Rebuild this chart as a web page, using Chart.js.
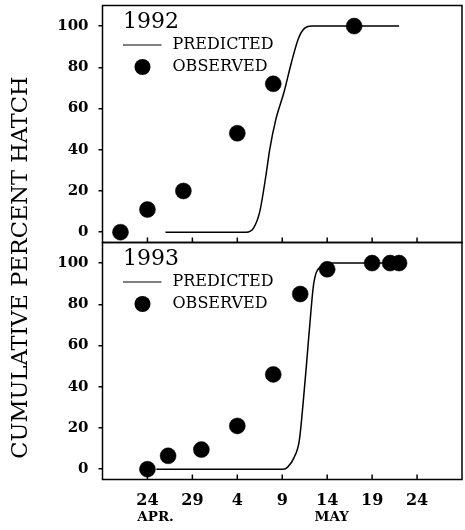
<!DOCTYPE html>
<html>
<head>
<meta charset="utf-8">
<script src="https://cdn.jsdelivr.net/npm/chart.js@4.4.0/dist/chart.umd.min.js"></script>
<style>
    html, body { margin: 0; padding: 0; background: #fff; }
</style>
</head>
<body>
<canvas id="hatchChart" width="465" height="530"></canvas>
<script>
// x values are days counted from 24 April
var dayTicks = [0, 5, 10, 15, 20, 25, 30];
var dayLabels = ['24', '29', '4', '9', '14', '19', '24'];
var monthTicks = [0.9, 20.5];
var monthLabels = ['APR.', 'MAY'];
var hatchTicks = [0, 20, 40, 60, 80, 100];
var panelYears = ['1992', '1993'];

var obs92Days = [-3, 0, 4, 10, 14, 23];
var obs92Hatch = [0, 11, 20, 48, 72, 100];
var pred92Days = [2, 11, 11.8, 12.5, 13.2, 13.6, 14.3, 15.2, 16, 16.8, 17.5, 18.3, 28];
var pred92Hatch = [0, 0, 2, 10, 28, 40, 55, 68, 82, 94, 99, 100, 100];

var obs93Days = [0, 2.3, 6, 10, 14, 17, 20, 25, 27, 28];
var obs93Hatch = [0, 6.5, 9.5, 21, 46, 85, 97, 100, 100, 100];
var pred93Days = [1, 15.1, 15.6, 16.3, 16.9, 17.3, 17.7, 18.1, 18.5, 19.2, 20.5, 28];
var pred93Hatch = [0, 0, 1, 5.5, 14, 31, 51, 72, 90, 98, 100, 100];

var FONT = "'DejaVu Serif', serif";

function toPoints(xs, ys) {
    return xs.map(function (x, i) { return { x: x, y: ys[i] }; });
}

function predicted(xs, ys, axis) {
    return {
        label: 'PREDICTED',
        data: toPoints(xs, ys),
        yAxisID: axis,
        showLine: true,
        pointRadius: 0,
        borderColor: '#000',
        borderWidth: 1.5,
        cubicInterpolationMode: 'monotone'
    };
}

function observed(xs, ys, axis) {
    return {
        label: 'OBSERVED',
        data: toPoints(xs, ys),
        yAxisID: axis,
        pointRadius: 8,
        pointBorderWidth: 0.5,
        backgroundColor: '#000',
        borderColor: '#000'
    };
}

function hatchAxis() {
    return {
        type: 'linear',
        position: 'left',
        stack: 'hatch',
        stackWeight: 1,
        min: -5,
        max: 110,
        afterBuildTicks: function (axis) {
            axis.ticks = hatchTicks.map(function (v) { return { value: v }; });
        },
        afterFit: function (axis) {
            axis.width = 52.5;
            axis.paddingTop = 0;
            axis.paddingBottom = 0;
        },
        ticks: { font: { size: 15, weight: 'bold' }, padding: 10, color: '#000' },
        grid: { drawOnChartArea: false, tickLength: 4, color: '#000', lineWidth: 1.5 },
        border: { display: false }
    };
}

// frame of each panel, inside ticks, year and small legend
var panelDecor = {
    id: 'panelDecor',
    afterDatasetsDraw: function (chart) {
        var c = chart.ctx;
        var area = chart.chartArea;
        var xs = chart.scales.x;
        c.save();
        c.strokeStyle = '#000';
        c.fillStyle = '#000';
        ['yTop', 'yBot'].forEach(function (id, i) {
            var s = chart.scales[id];
            c.lineWidth = 1.5;
            c.strokeRect(area.left, s.top, area.right - area.left, s.bottom - s.top);
            dayTicks.forEach(function (d) {
                var px = xs.getPixelForValue(d);
                c.beginPath();
                c.moveTo(px, s.bottom);
                c.lineTo(px, s.bottom - 5);
                c.stroke();
            });

            var lx = area.left + 20.5;
            c.textAlign = 'left';
            c.textBaseline = 'alphabetic';
            c.font = '22px ' + FONT;
            c.fillText(panelYears[i], lx, s.top + 22.5);

            c.lineWidth = 1;
            c.beginPath();
            c.moveTo(lx, s.top + 39.5);
            c.lineTo(lx + 38.5, s.top + 39.5);
            c.stroke();
            c.beginPath();
            c.arc(area.left + 40, s.top + 61.5, 8, 0, 2 * Math.PI);
            c.fill();

            c.font = '16px ' + FONT;
            c.textBaseline = 'middle';
            c.fillText(chart.data.datasets[i * 2].label, area.left + 70, s.top + 39.5);
            c.fillText(chart.data.datasets[i * 2 + 1].label, area.left + 70, s.top + 61.5);
        });
        c.restore();
    }
};

Chart.defaults.font.family = FONT;
Chart.defaults.color = '#000';

var hatchCanvas = document.getElementById('hatchChart').getContext('2d');

var hatchChart = new Chart(hatchCanvas, {
    type: 'scatter',
    data: {
        datasets: [
            predicted(pred92Days, pred92Hatch, 'yTop'),
            observed(obs92Days, obs92Hatch, 'yTop'),
            predicted(pred93Days, pred93Hatch, 'yBot'),
            observed(obs93Days, obs93Hatch, 'yBot')
        ]
    },
    options: {
        responsive: false,
        animation: false,
        layout: { autoPadding: false, padding: { top: 5.5, right: 3, bottom: 0, left: 0 } },
        plugins: {
            legend: { display: false },
            tooltip: { enabled: false }
        },
        scales: {
            x: {
                type: 'linear',
                position: 'bottom',
                min: -5,
                max: 35,
                weight: 0,
                afterBuildTicks: function (axis) {
                    axis.ticks = dayTicks.map(function (v) { return { value: v }; });
                },
                afterFit: function (axis) {
                    axis.height = 28;
                    axis.paddingLeft = 0;
                    axis.paddingRight = 0;
                },
                ticks: {
                    font: { size: 16, weight: 'bold', lineHeight: 1 },
                    padding: 13,
                    maxRotation: 0,
                    autoSkip: false,
                    callback: function (v) { return dayLabels[dayTicks.indexOf(v)]; }
                },
                grid: { display: false, drawTicks: false },
                border: { display: false }
            },
            xMonth: {
                type: 'linear',
                position: 'bottom',
                min: -5,
                max: 35,
                weight: 1,
                afterBuildTicks: function (axis) {
                    axis.ticks = monthTicks.map(function (v) { return { value: v }; });
                },
                afterFit: function (axis) {
                    axis.height = 22.5;
                    axis.paddingLeft = 0;
                    axis.paddingRight = 0;
                },
                ticks: {
                    font: { size: 13.5, weight: 'bold', lineHeight: 1 },
                    padding: 3.3,
                    maxRotation: 0,
                    autoSkip: false,
                    callback: function (v) { return monthLabels[monthTicks.indexOf(v)]; }
                },
                grid: { display: false, drawTicks: false },
                border: { display: false }
            },
            yBot: hatchAxis(),
            yTop: hatchAxis(),
            yTitle: {
                type: 'linear',
                position: 'left',
                weight: 5,
                afterFit: function (axis) {
                    axis.width = 50;
                },
                ticks: { display: false },
                grid: { display: false, drawTicks: false },
                border: { display: false },
                title: {
                    display: true,
                    text: 'CUMULATIVE PERCENT HATCH       ',
                    font: { size: 22.5 },
                    padding: { top: 8, bottom: 10 }
                }
            }
        }
    },
    plugins: [panelDecor]
});
</script>
</body>
</html>
